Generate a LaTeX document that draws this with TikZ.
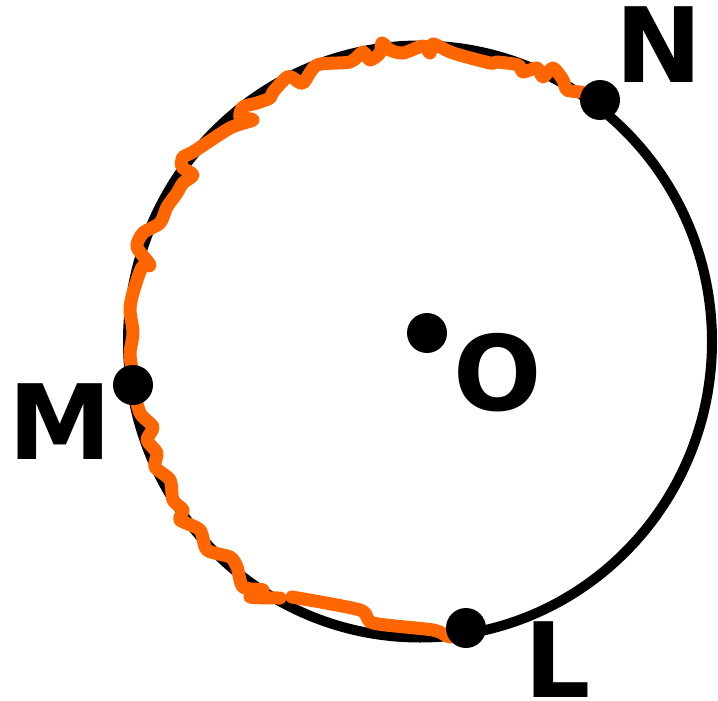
\documentclass[tikz,border=0pt]{standalone}
\usepackage{fontspec}
\setmainfont{DejaVu Sans}
\definecolor{wobble}{HTML}{FF6600}
\begin{document}
\begin{tikzpicture}[x=1pt,y=-1pt,
  rim/.style={draw=black,line width=10pt},
  trace/.style={draw=wobble,line width=13pt,line cap=round,line join=round},
  pt/.style={circle,fill=black,inner sep=0pt,minimum size=40pt},
  lbl/.style={anchor=base,inner sep=0pt,font=\fontsize{104}{104}\selectfont\bfseries}]
\useasboundingbox (0,0) rectangle (718,701);
\draw[rim] (420,341.5) ellipse [x radius=292pt, y radius=296pt];
\draw[trace] plot[smooth,tension=0.45] coordinates {
 (581,92) (567,90) (563,80) (553,68) (543,77) (537,68) (523,72) (518,65)
 (497,62) (490,63) (453,53) (433,44) (430,53) (423,46) (403,53) (390,50)
 (382,43) (380,53) (370,60) (363,52) (350,62) (317,65) (303,83) (293,78)
 (287,77) (273,92) (270,98) (257,103) (243,107) (240,117) (253,120) (230,128)
 (193,152) (183,157) (182,167) (193,175) (183,183) (177,193) (167,207) (160,223)
 (143,233) (137,247) (150,265) (142,267) (133,293) (130,310) (133,333) (130,353)
 (132,370) (133,385) (140,413) (153,427) (147,440) (157,453) (155,467) (170,480)
 (173,500) (183,510) (180,520) (200,530) (207,550) (230,557) (237,567) (243,587)
 (263,590) (250,597) (280,598) };
\draw[trace] plot[smooth,tension=0.45] coordinates {
 (292,597) (360,610) (373,623) (433,630) (450,637) (464,630) };
\node[pt] (N) at (600,100) {};
\node[pt] (M) at (133,385) {};
\node[pt] (L) at (466,628) {};
\node[pt] (O) at (427,333) {};
\node[lbl] (tN) at (659.5,83) {N};
\node[lbl] (tO) at (498,410) {O};
\node[lbl] (tM) at (60,459) {M};
\node[lbl] (tL) at (558,697) {L};
\end{tikzpicture}
\end{document}
